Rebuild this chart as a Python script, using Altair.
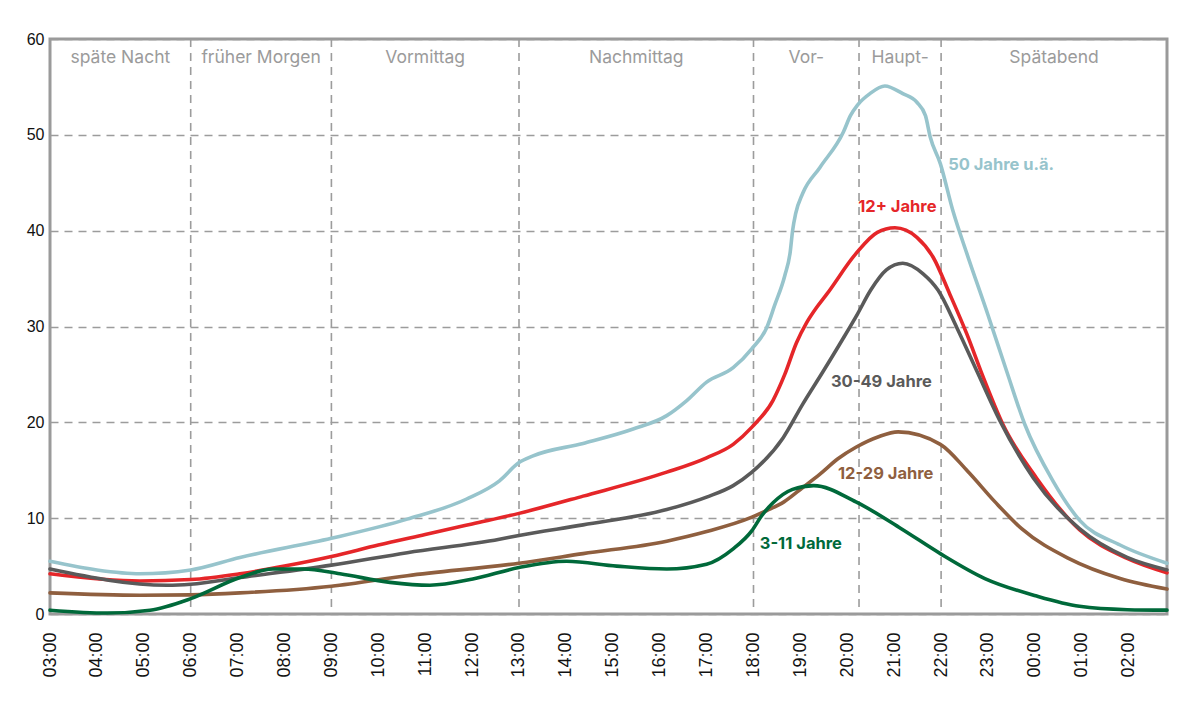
import altair as alt
import pandas as pd

# ---------------- data ----------------
hour_labels = ["03:00", "04:00", "05:00", "06:00", "07:00", "08:00", "09:00", "10:00",
               "11:00", "12:00", "13:00", "14:00", "15:00", "16:00", "17:00", "18:00",
               "19:00", "20:00", "21:00", "22:00", "23:00", "00:00", "01:00", "02:00"]
start_time = "03:00"
end_time = "02:49"

series_names = ["50 Jahre u.ä.", "12+ Jahre", "30-49 Jahre", "12-29 Jahre", "3-11 Jahre"]
series_colors = ["#97c4cc", "#e52629", "#5a5a5a", "#8f5f3f", "#00693a"]

lb_t = ["03:00", "04:00", "04:55", "06:00", "07:03", "09:00", "10:37", "11:53", "12:35", "13:00",
        "13:18", "14:22", "15:26", "16:09", "16:35", "17:00", "17:34", "17:58", "18:17", "18:27",
        "18:40", "18:47", "18:50", "18:54", "19:03", "19:25", "19:55", "20:04", "20:13", "20:29",
        "20:48", "21:11", "21:29", "21:40", "21:46", "21:59", "22:15", "22:33", "23:00", "23:24",
        "23:47", "00:23", "00:57", "01:49", "02:49"]
lb_v = [5.5, 4.6, 4.2, 4.6, 5.9, 7.9, 9.9, 12.0, 13.9, 15.8,
        16.5, 17.8, 19.3, 20.7, 22.3, 24.2, 25.7, 27.7, 29.9, 32.2,
        35.3, 37.8, 40.0, 41.8, 43.9, 46.6, 50.3, 52.0, 53.1, 54.3,
        55.1, 54.3, 53.4, 52.0, 49.8, 47.0, 42.1, 37.6, 31.2, 25.3,
        19.8, 13.9, 9.8, 7.2, 5.3]

red_t = ["03:00", "04:55", "06:00", "07:03", "08:00", "09:00", "10:00", "11:00", "12:00", "13:00",
         "14:22", "16:09", "17:00", "17:34", "17:58", "18:25", "18:40", "18:55", "19:08", "19:20",
         "19:34", "20:11", "20:38", "21:01", "21:29", "21:50", "22:11", "22:33", "22:53", "23:19",
         "00:02", "00:57", "01:58", "02:49"]
red_v = [4.2, 3.45, 3.6, 4.2, 5.0, 6.0, 7.2, 8.3, 9.4, 10.5,
         12.3, 14.8, 16.3, 17.7, 19.5, 22.3, 25.0, 28.3, 30.4, 31.9,
         33.4, 37.6, 39.8, 40.3, 39.3, 37.2, 33.4, 29.2, 24.9, 19.8,
         14.2, 8.8, 5.8, 4.3]

gray_t = ["03:00", "05:30", "06:00", "07:03", "09:00", "10:37", "12:35", "13:00", "14:22", "16:09",
          "17:00", "17:34", "17:58", "18:38", "19:03", "19:29", "19:55", "20:13", "20:30", "20:50",
          "21:11", "21:37", "21:56", "22:20", "22:46", "23:15", "23:58", "00:57", "01:58", "02:49"]
gray_v = [4.7, 3.0, 3.1, 3.8, 5.1, 6.4, 7.8, 8.2, 9.3, 10.9,
          12.2, 13.4, 14.8, 18.4, 21.9, 25.3, 28.8, 31.3, 33.8, 35.9,
          36.6, 35.5, 33.8, 29.9, 25.3, 20.2, 14.2, 8.9, 5.9, 4.6]

brown_t = ["03:00", "04:55", "06:00", "07:03", "09:00", "10:37", "13:00", "14:22", "16:09", "17:00",
           "17:58", "18:17", "18:39", "19:03", "19:25", "19:48", "20:11", "20:40", "21:05", "21:59",
           "22:34", "23:09", "23:43", "00:43", "01:49", "02:49"]
brown_v = [2.2, 1.95, 2.0, 2.2, 2.9, 4.0, 5.3, 6.3, 7.6, 8.6,
           10.1, 10.8, 11.7, 13.2, 14.6, 16.2, 17.4, 18.5, 19.0, 17.7,
           14.9, 11.7, 8.9, 5.8, 3.7, 2.6]

green_t = ["03:00", "04:13", "05:08", "06:00", "07:03", "07:45", "08:24", "09:11", "10:15", "11:06",
           "12:01", "13:00", "14:01", "15:05", "16:09", "17:00", "17:34", "17:58", "18:10", "18:25",
           "18:50", "19:17", "20:11", "21:09", "21:59", "22:56", "00:01", "00:57", "01:58", "02:49"]
green_v = [0.4, 0.1, 0.4, 1.6, 3.8, 4.7, 4.7, 4.2, 3.3, 3.0,
           3.65, 4.85, 5.5, 5.0, 4.7, 5.2, 6.8, 8.7, 10.2, 11.6,
           13.0, 13.4, 11.7, 8.9, 6.3, 3.7, 1.9, 0.8, 0.45, 0.4]

series_times = [lb_t, red_t, gray_t, brown_t, green_t]
series_values = [lb_v, red_v, gray_v, brown_v, green_v]

# series label anchor (time, value)
label_t = ["22:09", "20:14", "19:39", "19:48", "18:08"]
label_v = [46.9, 42.5, 24.2, 14.6, 7.3]

period_names = ["späte Nacht", "früher Morgen", "Vormittag", "Nachmittag", "Vor-", "Haupt-", "Spätabend"]
period_bounds = ["03:00", "06:00", "09:00", "13:00", "18:00", "20:15", "22:00", "02:49"]
period_label_value = 58.0

y_ticks = [0, 10, 20, 30, 40, 50, 60]


def to_h(t):
    hh, mm = t.split(":")
    return (int(hh) - int(start_time[:2])) % 24 + int(mm) / 60


# ---------------- styling ----------------
W, H = 1117, 575
GRID = "#9c9c9c"
AX_FONT = "Liberation Sans"
LBL_FONT = "Inter"

x_dom = [0, to_h(end_time)]
label_expr = "[" + ",".join("'" + s + "'" for s in hour_labels) + "][datum.value]"


def X():
    return alt.X("h:Q",
                 scale=alt.Scale(domain=x_dom, nice=False, zero=False),
                 axis=alt.Axis(values=list(range(len(hour_labels))), labelExpr=label_expr,
                               labelAngle=270, labelFontSize=18, labelFont=AX_FONT,
                               labelColor="#111111", ticks=False, domain=False, grid=False,
                               labelPadding=18, title=None))


def Y():
    return alt.Y("v:Q",
                 scale=alt.Scale(domain=[0, 60], nice=False, zero=True),
                 axis=alt.Axis(values=y_ticks, grid=True, gridDash=[8, 6], gridColor=GRID,
                               gridWidth=1.6, domain=False, ticks=False, labelFontSize=16,
                               labelFont=AX_FONT, labelColor="#111111", labelPadding=6,
                               title=None))


layers = []

# vertical dashed period boundaries
rules_df = pd.DataFrame({"h": [to_h(t) for t in period_bounds[1:-1]]})
layers.append(
    alt.Chart(rules_df).mark_rule(color=GRID, strokeWidth=1.6, strokeDash=[8, 6]).encode(x=X())
)

# period labels
pl_df = pd.DataFrame({
    "name": period_names,
    "h": [(to_h(a) + to_h(b)) / 2 for a, b in zip(period_bounds[:-1], period_bounds[1:])],
    "v": [period_label_value] * len(period_names),
})
layers.append(
    alt.Chart(pl_df).mark_text(font=LBL_FONT, fontSize=17.5, color="#9b9b9b",
                               align="center", baseline="middle")
    .encode(x=X(), y=Y(), text="name:N")
)

# lines
for name, col, ts, vs in zip(series_names, series_colors, series_times, series_values):
    df = pd.DataFrame({"h": [to_h(t) for t in ts], "v": vs, "s": name})
    layers.append(
        alt.Chart(df).mark_line(interpolate="monotone", strokeWidth=3.6, color=col,
                                strokeCap="round", strokeJoin="round")
        .encode(x=X(), y=Y(), order="h:Q")
    )

# series labels
for name, col, t, v in zip(series_names, series_colors, label_t, label_v):
    df = pd.DataFrame({"h": [to_h(t)], "v": [v], "name": [name]})
    layers.append(
        alt.Chart(df).mark_text(font=LBL_FONT, fontSize=16.5, fontWeight="bold", color=col,
                                align="left", baseline="middle")
        .encode(x=X(), y=Y(), text="name:N")
    )

chart = (
    alt.layer(*layers)
    .properties(width=W, height=H,
                autosize=alt.AutoSizeParams(type="none"),
                padding={"left": 42, "top": 31, "right": 8, "bottom": 80},
                background="white")
    .configure_view(stroke="#9a9a9a", strokeWidth=3)
)

chart.save("out.html", embed_options={"renderer": "svg", "actions": False})
